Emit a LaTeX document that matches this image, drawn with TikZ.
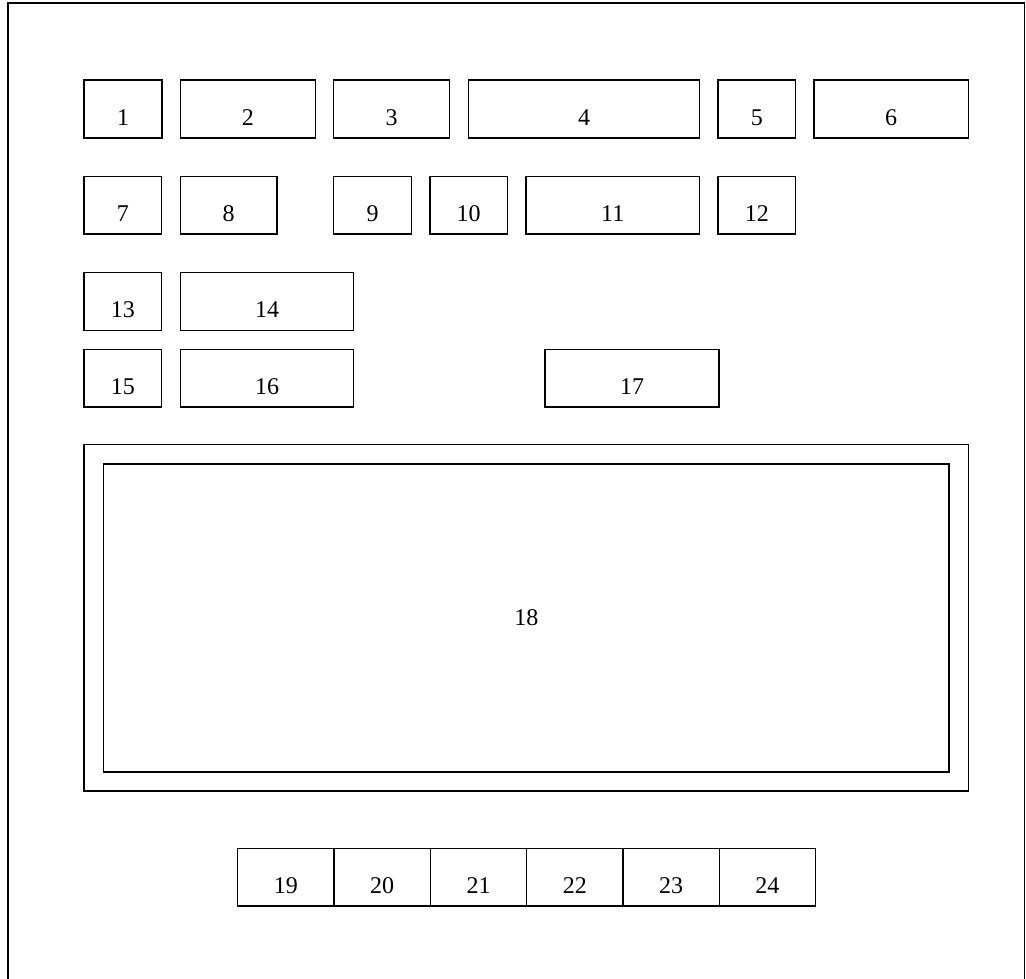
\documentclass[tikz,border=0pt]{standalone}
\usepackage{fontspec}
\setmainfont{Liberation Serif}
\usetikzlibrary{positioning}

\begin{document}
\begin{tikzpicture}[
  x=1pt, y=-1pt,
  every node/.style={font=\fontsize{24}{28}\selectfont},
  frame/.style={draw, line width=1.4pt},
  cell/.style={draw, line width=1.4pt, rectangle, inner sep=0pt,
               minimum height=57.7pt, text height=33pt, text depth=0pt},
  panel/.style={draw, line width=1.4pt, rectangle, inner sep=0pt}
]
\useasboundingbox (0,0) rectangle (1026,979);

%% page frame
\draw[frame] (8,979) |- (1024.5,3) -- (1024.5,979);

%% top rows of cells
\foreach \n/\x/\y/\w in {1/123/109/78, 2/247.8/109/135, 3/391.7/109/116,
                         4/584/109/230.6, 5/756.9/109/77.7, 6/891.2/109/154.3,
                         7/122.9/205.2/77.7, 8/228.7/205.2/96.7,
                         9/372.7/205.2/78, 10/468.7/205.2/77.3,
                         11/612.7/205.2/173.3, 12/756.9/205.2/77.7,
                         13/122.9/301.4/77.7, 14/267/301.4/173.4,
                         15/122.9/378.2/77.7, 16/267/378.2/173.4,
                         17/632/378.2/174}
  \node[cell, minimum width=\w pt] (c\n) at (\x,\y) {\n};

%% display panel
\node[panel, minimum width=884.3pt, minimum height=346.3pt] (dispout) at (526.2,617.9) {};
\node[panel, minimum width=845.3pt, minimum height=308pt] (dispin) at (526.4,618) {18};

%% bottom strip
\foreach \n [count=\i from 0] in {19,...,24}
  \node[cell, minimum width=96.3pt] (c\n) at (285.9+96.3*\i,877.2) {\n};
\end{tikzpicture}
\end{document}
